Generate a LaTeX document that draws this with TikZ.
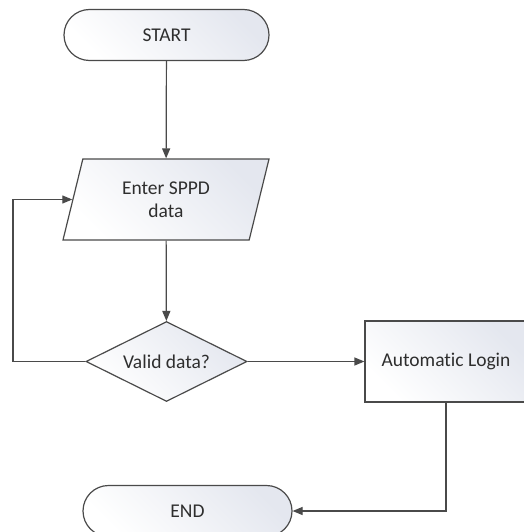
\documentclass[tikz,border=0pt]{standalone}
\usepackage{fontspec}
\setmainfont[Ligatures=CommonOff]{Carlito}
\usetikzlibrary{shapes.geometric,shapes.misc,arrows.meta}
\definecolor{linec}{HTML}{4A4A4A}
\definecolor{textc}{HTML}{2E2E2E}
\definecolor{shadec}{HTML}{E4E7EF}
\begin{document}
\begin{tikzpicture}[x=1pt,y=1pt,
  box/.style={draw=linec, line width=1.2pt, shading=axis, top color=shadec, bottom color=white, shading angle=-45,
    text=textc, font=\fontsize{19.5}{23}\selectfont, inner sep=0pt, align=center},
  term/.style={box, rounded rectangle, minimum width=#1, minimum height=51pt},
  inout/.style={box, trapezium, trapezium left angle=61, trapezium right angle=119, trapezium stretches body,
    minimum width=206pt, minimum height=81pt},
  decide/.style={box, diamond, aspect=2, minimum width=161pt, minimum height=80pt},
  proc/.style={box, rectangle, minimum width=162pt, minimum height=81pt},
  conn/.style={draw=linec, line width=1.2pt, -{Triangle[length=10pt,width=8pt]}}
]
\useasboundingbox (0,0) rectangle (523,-532);
\node[term=205pt] (start) at (166.5,-35) {START};
\node[inout] (input) at (166,-199.5) {Enter SPPD\\data};
\node[decide] (valid) at (166.5,-361.5) {Valid data?};
\node[proc] (login) at (446,-361.5) {Automatic Login};
\node[term=209pt] (end) at (187.5,-511) {END};
\coordinate (loopL) at (13,0);
\draw[conn] (start) -- (input);
\draw[conn] (input) -- (valid);
\draw[conn] (valid) -- (login);
\draw[conn] (valid.west) -- (valid.west -| loopL) |- (input.west);
\draw[conn] (login.south) |- (end.east);
\end{tikzpicture}
\end{document}
